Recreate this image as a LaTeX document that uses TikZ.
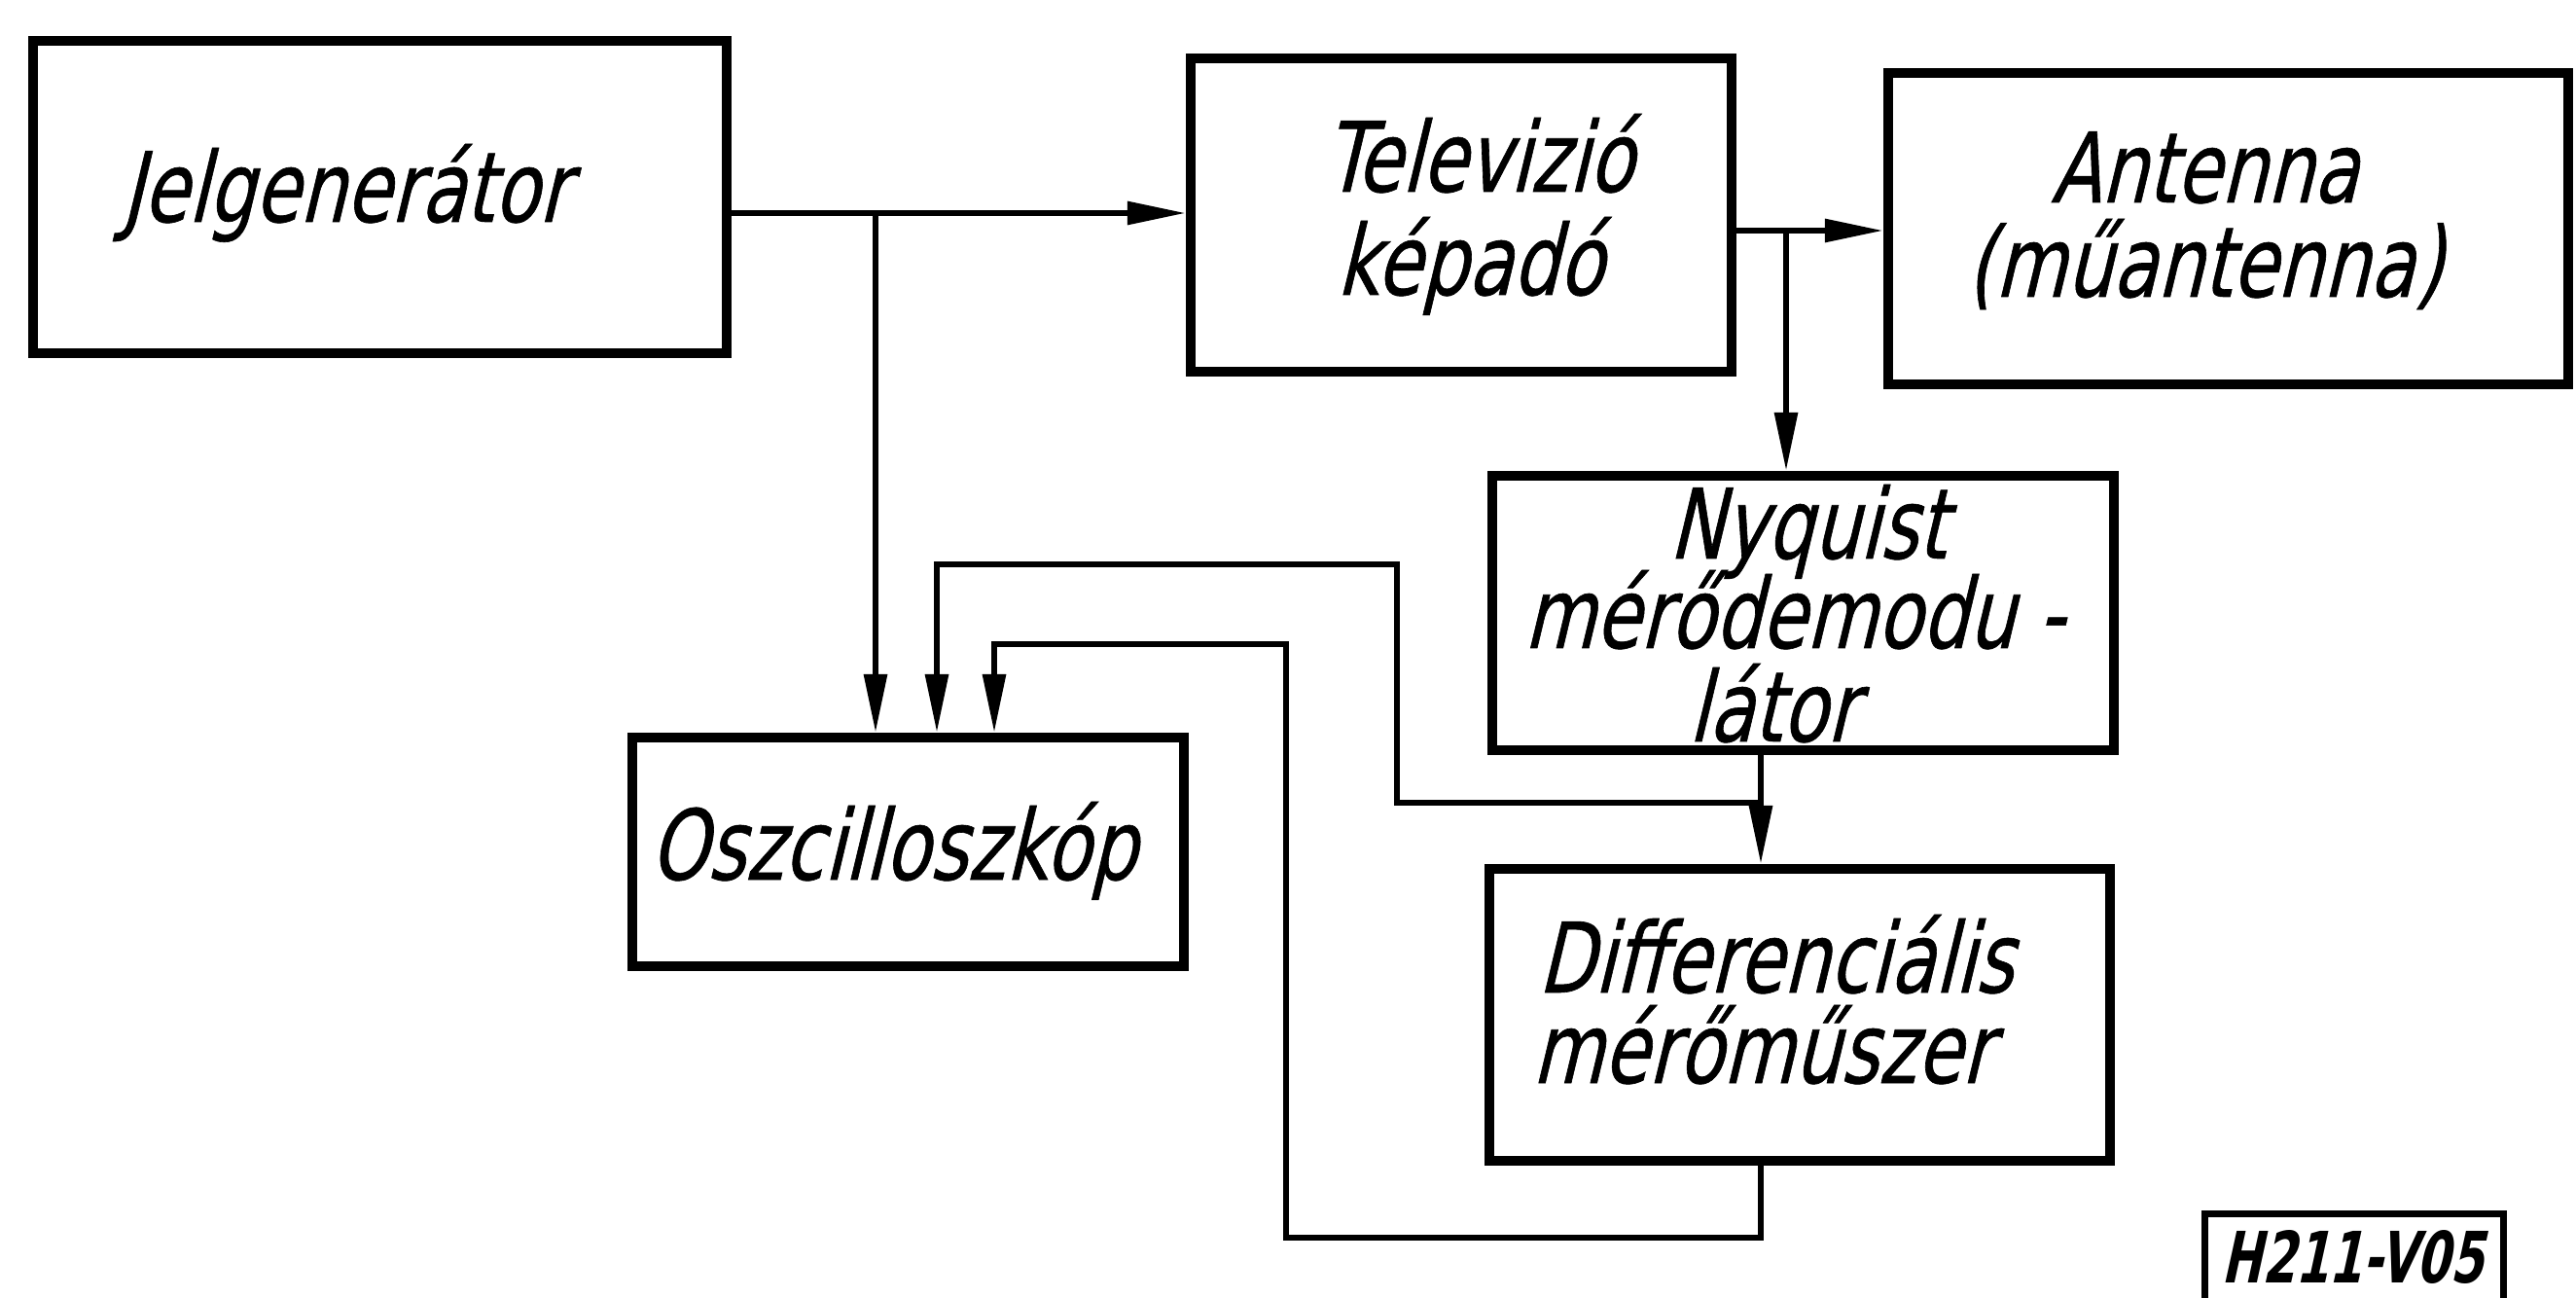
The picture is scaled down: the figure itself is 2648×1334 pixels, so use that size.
\documentclass[tikz,border=0pt]{standalone}
\usepackage{fontspec}
\usepackage{graphicx}
\usetikzlibrary{arrows.meta}
\newfontfamily\lett{DejaVu Sans}[FakeStretch=0.75,FakeSlant=0.24,FakeBold=0.6]
\newfontfamily\lettb{DejaVu Sans}[FakeStretch=0.68,FakeSlant=0.22]
\begin{document}
\begin{tikzpicture}[x=0.01cm,y=-0.01cm,
  box/.style={draw, line width=2.8pt, inner sep=0pt},
  conn/.style={line width=1.7pt},
  arr/.style={-{Triangle[length=6mm,width=2.3mm]}},
  txt/.style={inner sep=0pt, anchor=base, font=\lett\fontsize{28.45}{30}\selectfont}]
\fill[white] (0,0) rectangle (2648,1334);
\useasboundingbox (0,0) rectangle (2648,1334);
% boxes
\node[box, minimum width=7.13cm, minimum height=3.21cm] (jel) at (390.5,202.5) {};
\node[box, minimum width=5.56cm, minimum height=3.22cm] (tv) at (1502,221) {};
\node[box, minimum width=6.99cm, minimum height=3.20cm] (ant) at (2290.5,235) {};
\node[box, minimum width=6.39cm, minimum height=2.82cm] (nyq) at (1853.5,630) {};
\node[box, minimum width=5.67cm, minimum height=2.35cm] (osc) at (933.5,875.5) {};
\node[box, minimum width=6.38cm, minimum height=3.00cm] (dif) at (1850,1043) {};
\node[box, line width=2pt, minimum width=3.06cm, minimum height=1.0cm] (lbl) at (2420,1298) {};
% texts
\node[txt] (tjel) at (354.5,228) {Jelgenerátor};
\node[txt] (ttv1) at (1520,197) {Televizió};
\node[txt] (ttv2) at (1511,303) {képadó};
\node[txt] (tant1) at (2266,208) {Antenna};
\node[txt] (tant2) at (2266,305) {(műantenna)};
\node[txt] (tnyq1) at (1858,574) {Nyquist};
\node[txt] (tnyq2) at (1844,666) {mérődemodu -};
\node[txt] (tnyq3) at (1822,762) {látor};
\node[txt] (tosc) at (918,904) {Oszcilloszkóp};
\node[txt] (tdif1) at (1825,1020) {Differenciális};
\node[txt] (tdif2) at (1811,1113) {mérőműszer};
\node[inner sep=0pt, anchor=base, font=\lettb\bfseries\fontsize{20.7}{22}\selectfont] (tlbl) at (2418,1318) {H211-V05};
% connectors
\coordinate (jA) at (900,219);
\draw[conn,arr] (jel.east |- jA) -- (tv.west |- jA);
\draw[conn,arr] (jA) -- (jA |- osc.north);
\coordinate (tA) at (1836,237);
\draw[conn,arr] (tv.east |- tA) -- (ant.west |- tA);
\draw[conn,arr] (tA) -- (tA |- nyq.north);
\coordinate (nA) at (1810,825);
\draw[conn,arr] (nyq.south -| nA) -- (dif.north -| nA);
\coordinate (f1) at (1436,825);
\coordinate (f2) at (1436,580);
\coordinate (f3) at (963,580);
\draw[conn,arr] (nA) -- (f1) -- (f2) -- (f3) -- (f3 |- osc.north);
\coordinate (dB) at (1810,1272);
\coordinate (g1) at (1322,1272);
\coordinate (g2) at (1322,662);
\coordinate (g3) at (1022,662);
\draw[conn,arr] (dif.south -| dB) -- (dB) -- (g1) -- (g2) -- (g3) -- (g3 |- osc.north);
\end{tikzpicture}
\end{document}
